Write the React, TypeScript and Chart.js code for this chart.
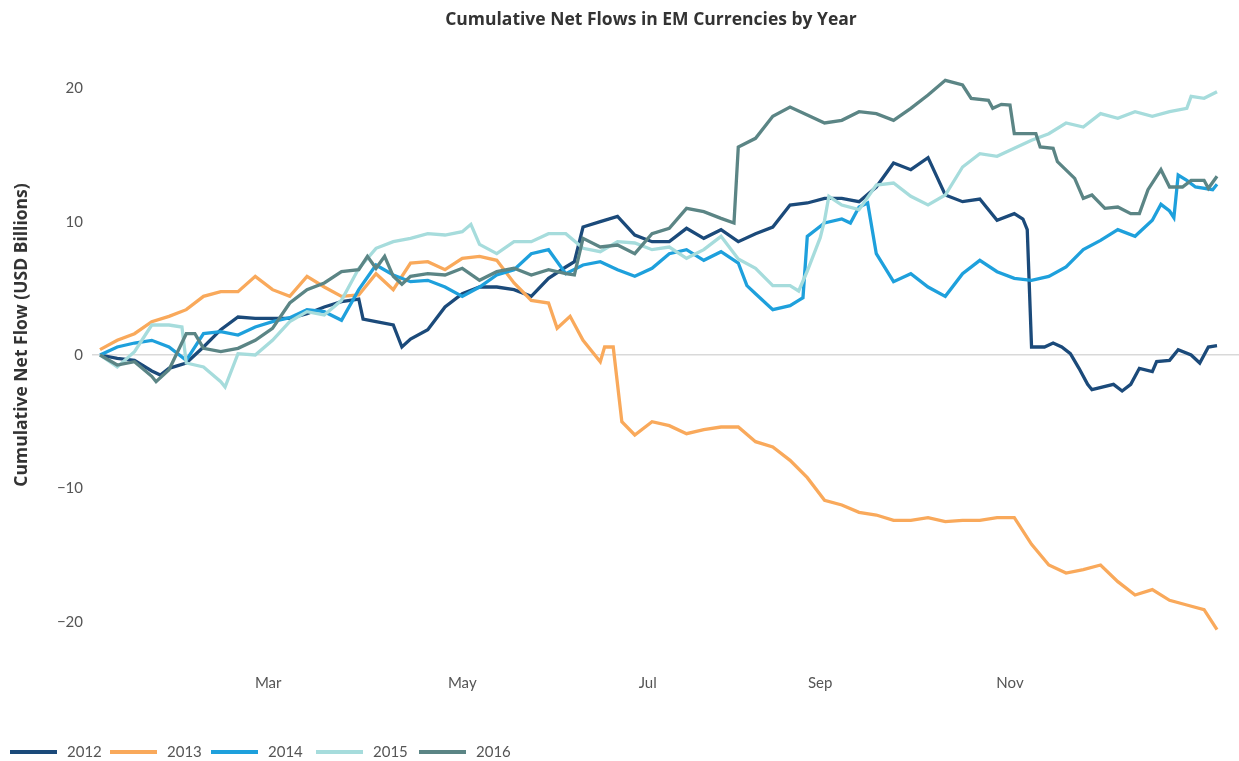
import React, { useEffect, useRef } from 'react';
import { Chart, registerables } from 'chart.js';

Chart.register(...registerables);

const chartTitle = 'Cumulative Net Flows in EM Currencies by Year';
const yAxisTitle = 'Cumulative Net Flow (USD Billions)';

const seriesLabels = ['2012', '2013', '2014', '2015', '2016'];
const seriesColors = ['#1b4a7a', '#f9a95b', '#1ea0dc', '#a6dcdc', '#5b8585'];

// x = trading-day index within the year, y = USD billions
const days2012 = [0, 4, 8, 12, 14, 16, 20, 24, 28, 32, 36, 40, 44, 48, 52, 56, 60, 61, 64, 68, 70, 72, 76, 80, 84, 88, 92, 96, 100, 104, 108, 110, 112, 116, 120, 124, 128, 132, 136, 140, 144, 148, 152, 156, 160, 164, 168, 172, 176, 180, 184, 188, 192, 196, 200, 204, 208, 212, 214, 215, 216, 219, 221, 223, 225, 227, 229, 230, 235, 237, 239, 241, 244, 245, 248, 250, 253, 255, 257, 259];
const values2012 = [0, -0.25, -0.4, -1.2, -1.5, -1.0, -0.6, 0.6, 1.9, 2.85, 2.75, 2.75, 2.75, 3.1, 3.6, 4.0, 4.2, 2.7, 2.5, 2.25, 0.6, 1.2, 1.9, 3.6, 4.6, 5.1, 5.1, 4.9, 4.4, 5.75, 6.6, 7.0, 9.6, 10.0, 10.4, 9.0, 8.5, 8.5, 9.5, 8.75, 9.4, 8.5, 9.1, 9.6, 11.25, 11.4, 11.75, 11.75, 11.5, 12.6, 14.4, 13.9, 14.8, 12.0, 11.5, 11.7, 10.1, 10.6, 10.2, 9.4, 0.6, 0.6, 0.9, 0.6, 0.1, -1.0, -2.2, -2.6, -2.2, -2.7, -2.2, -1.0, -1.25, -0.5, -0.4, 0.4, 0, -0.6, 0.6, 0.7];

const days2013 = [0, 4, 8, 12, 16, 20, 24, 28, 32, 36, 40, 44, 48, 52, 56, 60, 64, 68, 72, 76, 80, 84, 88, 92, 96, 100, 104, 106, 109, 112, 116, 117, 119, 121, 124, 128, 132, 136, 140, 144, 148, 152, 156, 160, 164, 168, 172, 176, 180, 184, 188, 192, 196, 200, 204, 208, 212, 216, 220, 224, 228, 232, 236, 240, 244, 248, 252, 256, 259];
const values2013 = [0.4, 1.1, 1.6, 2.5, 2.9, 3.4, 4.4, 4.75, 4.75, 5.9, 4.9, 4.4, 5.9, 5.1, 4.4, 4.5, 6.1, 4.9, 6.9, 7.0, 6.4, 7.25, 7.4, 7.1, 5.4, 4.1, 3.9, 2.0, 2.9, 1.1, -0.5, 0.6, 0.6, -5.0, -6.0, -5.0, -5.3, -5.9, -5.6, -5.4, -5.4, -6.5, -6.9, -7.9, -9.2, -10.9, -11.25, -11.8, -12.0, -12.4, -12.4, -12.2, -12.5, -12.4, -12.4, -12.2, -12.2, -14.2, -15.75, -16.35, -16.1, -15.75, -17.0, -18.0, -17.6, -18.4, -18.75, -19.1, -20.6];

const days2014 = [0, 4, 8, 12, 16, 20, 24, 28, 32, 36, 40, 44, 48, 52, 56, 60, 64, 68, 72, 76, 80, 84, 88, 92, 96, 100, 104, 108, 112, 116, 120, 124, 128, 132, 136, 140, 144, 148, 150, 152, 156, 160, 162, 163, 164, 168, 172, 174, 176, 178, 180, 184, 188, 192, 196, 200, 204, 208, 212, 216, 220, 224, 228, 232, 236, 240, 244, 246, 248, 249, 250, 252, 254, 258, 259];
const values2014 = [0, 0.6, 0.9, 1.1, 0.6, -0.4, 1.6, 1.75, 1.5, 2.1, 2.5, 2.8, 3.4, 3.25, 2.6, 4.9, 6.75, 6.0, 5.5, 5.6, 5.1, 4.4, 5.1, 6.0, 6.4, 7.6, 7.9, 6.1, 6.75, 7.0, 6.4, 5.9, 6.5, 7.6, 7.9, 7.1, 7.75, 6.9, 5.2, 4.6, 3.4, 3.7, 4.1, 4.3, 8.9, 9.9, 10.2, 9.9, 11.1, 11.4, 7.6, 5.5, 6.1, 5.1, 4.4, 6.1, 7.1, 6.25, 5.75, 5.6, 5.9, 6.6, 7.9, 8.6, 9.4, 8.9, 10.1, 11.3, 10.8, 10.3, 13.5, 13.1, 12.6, 12.4, 12.8];

const days2015 = [0, 4, 8, 12, 16, 19, 20, 24, 28, 29, 32, 36, 40, 44, 48, 52, 56, 60, 64, 68, 72, 76, 80, 84, 86, 88, 92, 96, 100, 104, 108, 112, 116, 120, 124, 128, 132, 136, 140, 144, 148, 152, 156, 160, 162, 164, 167, 168, 169, 172, 176, 180, 184, 188, 192, 196, 200, 204, 208, 212, 216, 220, 224, 228, 232, 236, 240, 244, 248, 252, 253, 256, 259];
const values2015 = [0, -0.9, 0.25, 2.25, 2.25, 2.1, -0.6, -0.9, -2.0, -2.4, 0.1, 0, 1.1, 2.5, 3.25, 3.0, 4.1, 6.5, 8.0, 8.5, 8.75, 9.1, 9.0, 9.25, 9.8, 8.3, 7.6, 8.5, 8.5, 9.1, 9.1, 8.0, 7.75, 8.5, 8.4, 7.9, 8.1, 7.25, 7.9, 8.9, 7.2, 6.5, 5.2, 5.2, 4.8, 6.3, 8.8, 10.1, 11.9, 11.25, 10.9, 12.75, 12.9, 11.9, 11.25, 12.0, 14.1, 15.1, 14.9, 15.5, 16.1, 16.6, 17.4, 17.1, 18.1, 17.75, 18.25, 17.9, 18.25, 18.5, 19.4, 19.25, 19.75];

const days2016 = [0, 4, 8, 12, 13, 16, 20, 22, 24, 28, 32, 36, 40, 44, 48, 52, 56, 60, 62, 64, 66, 68, 70, 72, 76, 80, 84, 88, 92, 96, 100, 104, 108, 110, 112, 116, 120, 124, 128, 132, 136, 140, 144, 147, 148, 152, 156, 160, 164, 168, 172, 176, 180, 184, 188, 192, 196, 200, 202, 206, 207, 209, 211, 212, 217, 218, 221, 222, 226, 228, 230, 233, 236, 239, 241, 243, 246, 248, 251, 253, 256, 257, 259];
const values2016 = [0, -0.75, -0.5, -1.6, -2.0, -1.1, 1.6, 1.6, 0.5, 0.25, 0.5, 1.1, 2.0, 3.9, 4.9, 5.4, 6.25, 6.4, 7.4, 6.5, 7.4, 5.9, 5.3, 5.9, 6.1, 6.0, 6.5, 5.6, 6.25, 6.5, 6.0, 6.4, 6.1, 6.0, 8.75, 8.1, 8.25, 7.6, 9.1, 9.5, 11.0, 10.75, 10.25, 9.9, 15.6, 16.25, 17.9, 18.6, 18.0, 17.4, 17.6, 18.25, 18.1, 17.6, 18.5, 19.5, 20.6, 20.25, 19.25, 19.1, 18.5, 18.8, 18.75, 16.6, 16.6, 15.6, 15.5, 14.5, 13.25, 11.75, 12.0, 11.0, 11.1, 10.6, 10.6, 12.4, 13.9, 12.6, 12.6, 13.1, 13.1, 12.5, 13.4];

const yTickValues = [-20, -10, 0, 10, 20];
const monthTickDays = [39, 84, 127, 167, 211];
const monthLabels = ['Mar', 'May', 'Jul', 'Sep', 'Nov'];

const W = 1239;
const H = 761;

export default function App() {
  const ref = useRef<HTMLCanvasElement>(null);

  useEffect(() => {
    if (!ref.current) return;
    const pairs: [number[], number[]][] = [
      [days2012, values2012],
      [days2013, values2013],
      [days2014, values2014],
      [days2015, values2015],
      [days2016, values2016],
    ];
    const datasets = pairs.map(([d, v], i) => ({
      label: seriesLabels[i],
      data: d.map((x, j) => ({ x, y: v[j] })),
      borderColor: seriesColors[i],
      backgroundColor: seriesColors[i],
      borderWidth: 3.3,
      pointRadius: 0,
      pointHoverRadius: 0,
      tension: 0,
      fill: false,
      borderJoinStyle: 'miter' as const,
      order: seriesLabels.length - 1 - i,
    }));

    const titlePlugin = {
      id: 'customTitle',
      afterDraw(chart: any) {
        const ctx = chart.ctx;
        ctx.save();
        ctx.font = 'bold 17.5px "Open Sans"';
        ctx.fillStyle = '#333333';
        ctx.textAlign = 'center';
        ctx.textBaseline = 'middle';
        ctx.fillText(chartTitle, 651, 20);
        ctx.restore();
      },
    };

    const legendX = [10, 110, 211, 316, 419];
    const legendPlugin = {
      id: 'customLegend',
      afterDraw(chart: any) {
        const ctx = chart.ctx;
        ctx.save();
        ctx.font = '15px Lato';
        ctx.textAlign = 'left';
        ctx.textBaseline = 'middle';
        seriesLabels.forEach((lab, i) => {
          const x = legendX[i];
          ctx.fillStyle = seriesColors[i];
          ctx.fillRect(x, 750, 47, 4);
          ctx.fillStyle = '#555555';
          ctx.fillText(lab, x + 57, 752);
        });
        ctx.restore();
      },
    };

    const tickFont = { family: 'Lato', size: 15 };

    const chart = new Chart(ref.current, {
      type: 'line',
      data: { datasets },
      options: {
        responsive: false,
        animation: false,
        devicePixelRatio: 1,
        layout: { padding: { top: 35, left: 0, right: 0, bottom: 0 } },
        plugins: {
          legend: { display: false },
          tooltip: { enabled: false },
          title: { display: false },
        },
        scales: {
          x: {
            type: 'linear',
            min: -1.855,
            max: 264.1,
            afterBuildTicks: (s: any) => {
              s.ticks = monthTickDays.map((v) => ({ value: v }));
            },
            afterFit: (s: any) => {
              s.height = 126;
            },
            grid: { display: false },
            border: { display: false },
            ticks: {
              autoSkip: false,
              maxRotation: 0,
              padding: 31,
              font: tickFont,
              color: '#555555',
              callback: (_v: any, i: number) => monthLabels[i],
            },
          },
          y: {
            type: 'linear',
            min: -21,
            max: 24,
            afterBuildTicks: (s: any) => {
              s.ticks = yTickValues.map((v) => ({ value: v }));
            },
            afterFit: (s: any) => {
              s.width = 92;
            },
            grid: {
              drawTicks: false,
              lineWidth: 1.5,
              color: (c: any) => (c.tick && c.tick.value === 0 ? '#d9d9d9' : 'rgba(0,0,0,0)'),
            },
            border: { display: false },
            ticks: {
              padding: 9,
              font: tickFont,
              color: '#555555',
              callback: (v: any) => {
                const n = Number(v);
                return n < 0 ? '\u2212' + Math.abs(n) : String(n);
              },
            },
            title: {
              display: true,
              text: yAxisTitle,
              color: '#333333',
              font: { family: 'Open Sans', size: 17.5, weight: 'bold' },
              padding: { top: 12, bottom: 0 },
            },
          },
        },
      },
      plugins: [titlePlugin, legendPlugin],
    } as any);

    return () => chart.destroy();
  }, []);

  return (
    <div style={{ position: 'absolute', left: 0, top: 0, width: W, height: H, background: '#ffffff' }}>
      <canvas ref={ref} width={W} height={H} style={{ display: 'block', width: W, height: H }} />
    </div>
  );
}
